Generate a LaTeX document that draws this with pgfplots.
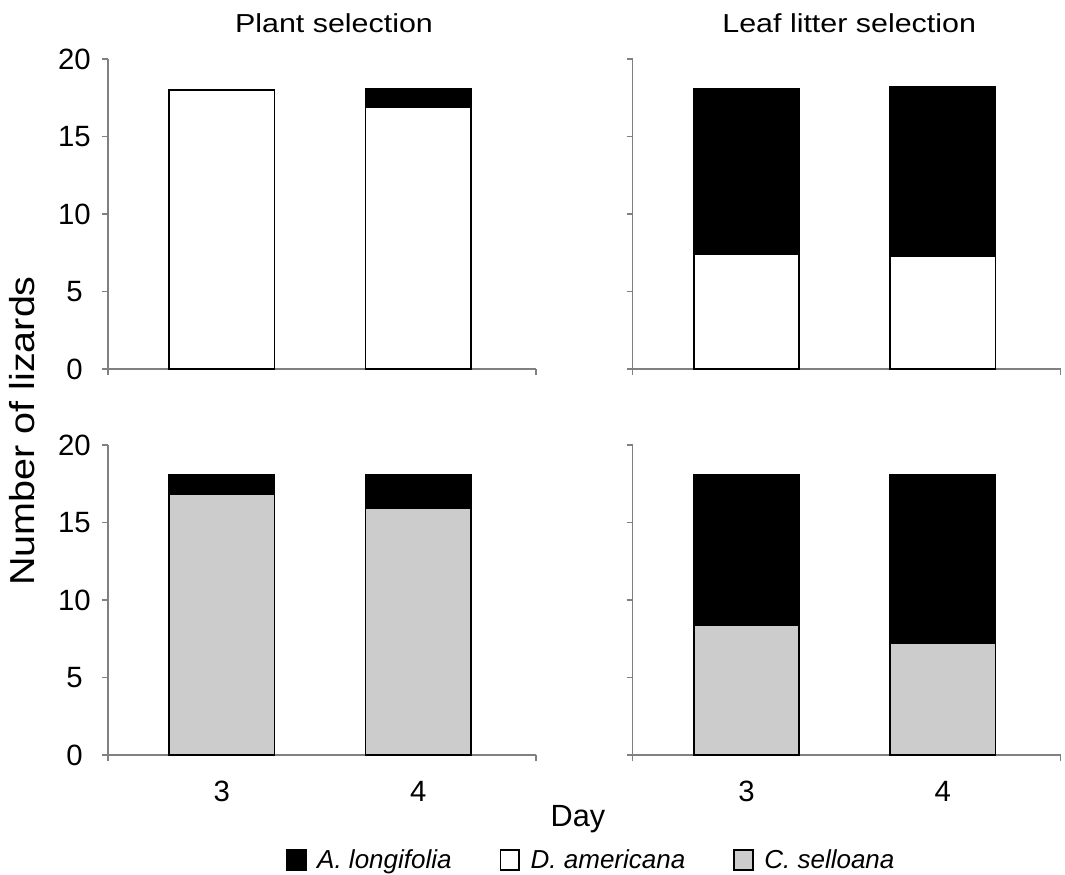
\documentclass[border=0pt]{standalone}
\usepackage{fontspec}
\setmainfont{Liberation Sans}
\usepackage{graphicx}
\usepackage{pgfplots}
\pgfplotsset{compat=1.18}
\definecolor{axisgray}{RGB}{128,128,128}
\definecolor{barfill}{RGB}{204,204,204}
\pgfplotsset{
  panel/.style={
    scale only axis, width=321pt, height=232.5pt,
    xmin=2.42, xmax=4.6, ymin=0, ymax=20,
    axis x line*=bottom, axis y line*=left,
    axis line style={draw=axisgray, line width=0.9pt},
    ytick={0,5,10,15,20},
    xtick={2.42,4.6}, xticklabels={},
    extra x ticks={3,4}, extra x tick labels={3,4},
    extra x tick style={major tick length=0pt},
    tick align=outside, major tick length=4.5pt,
    tick style={draw=axisgray, line width=0.9pt},
    ybar stacked, bar width=79pt,
    tick label style={font=\fontsize{22}{22}\selectfont},
    xticklabel style={yshift=-16pt},
    yticklabel={\makebox[1.1em][c]{\axisdefaultticklabel}},
    yticklabel style={xshift=-5pt},
    /pgf/number format/assume math mode=true,
    title style={font=\fontsize{19.5}{19.5}\selectfont, anchor=base, yshift=14pt},
    clip=false,
  },
  bw/.style={draw=black, line width=1.3pt},
}
\begin{document}
\begin{tikzpicture}
\useasboundingbox (0pt,0pt) rectangle (798.75pt,-656.25pt);
% top-left
\begin{axis}[panel, at={(81pt,-276.75pt)}, anchor=south west,
  extra x tick labels={},
  title={\scalebox{1.17}[1]{Plant selection}}, title style={xshift=9pt}]
\addplot[bw, fill=white] coordinates {(3,18) (4,16.9)};
\addplot[bw, fill=black] coordinates {(3,0) (4,1.2)};
\end{axis}
% top-right
\begin{axis}[panel, at={(474.4pt,-276.75pt)}, anchor=south west,
  extra x tick labels={}, yticklabels={},
  title={\scalebox{1.17}[1]{Leaf litter selection}}, title style={xshift=2pt}]
\addplot[bw, fill=white] coordinates {(3,7.4) (4,7.3)};
\addplot[bw, fill=black] coordinates {(3,10.7) (4,10.9)};
\end{axis}
% bottom-left
\begin{axis}[panel, at={(81pt,-566.25pt)}, anchor=south west,
  legend style={draw=none, fill=none, at={(1.13,-0.339)}, anchor=center,
    legend columns=3, font=\itshape\fontsize{19.5}{20}\selectfont,
    /tikz/every odd column/.append style={column sep=6pt},
    /tikz/every even column/.append style={column sep=34pt}},
  ]
\addlegendimage{legend image code/.code={\draw[fill=black,draw=black,line width=1.3pt] (0pt,-7.5pt) rectangle (14pt,7.5pt);}}
\addlegendentry{A. longifolia}
\addlegendimage{legend image code/.code={\draw[fill=white,draw=black,line width=1.3pt] (0pt,-7.5pt) rectangle (14pt,7.5pt);}}
\addlegendentry{D. americana}
\addlegendimage{legend image code/.code={\draw[fill=barfill,draw=black,line width=1.3pt] (0pt,-7.5pt) rectangle (14pt,7.5pt);}}
\addlegendentry{C. selloana}
\addplot[bw, fill=barfill] coordinates {(3,16.8) (4,15.9)};
\addplot[bw, fill=black] coordinates {(3,1.25) (4,2.15)};
\end{axis}
% bottom-right
\begin{axis}[panel, at={(474.4pt,-566.25pt)}, anchor=south west, yticklabels={}]
\addplot[bw, fill=barfill] coordinates {(3,8.4) (4,7.25)};
\addplot[bw, fill=black] coordinates {(3,9.7) (4,10.85)};
\end{axis}
\node[rotate=90, font=\fontsize{26}{26}\selectfont] at (16.5pt,-323.25pt) {\scalebox{1.14}[1]{Number of lizards}};
\node[font=\fontsize{23}{23}\selectfont] at (433.5pt,-614pt) {Day};
\end{tikzpicture}
\end{document}
